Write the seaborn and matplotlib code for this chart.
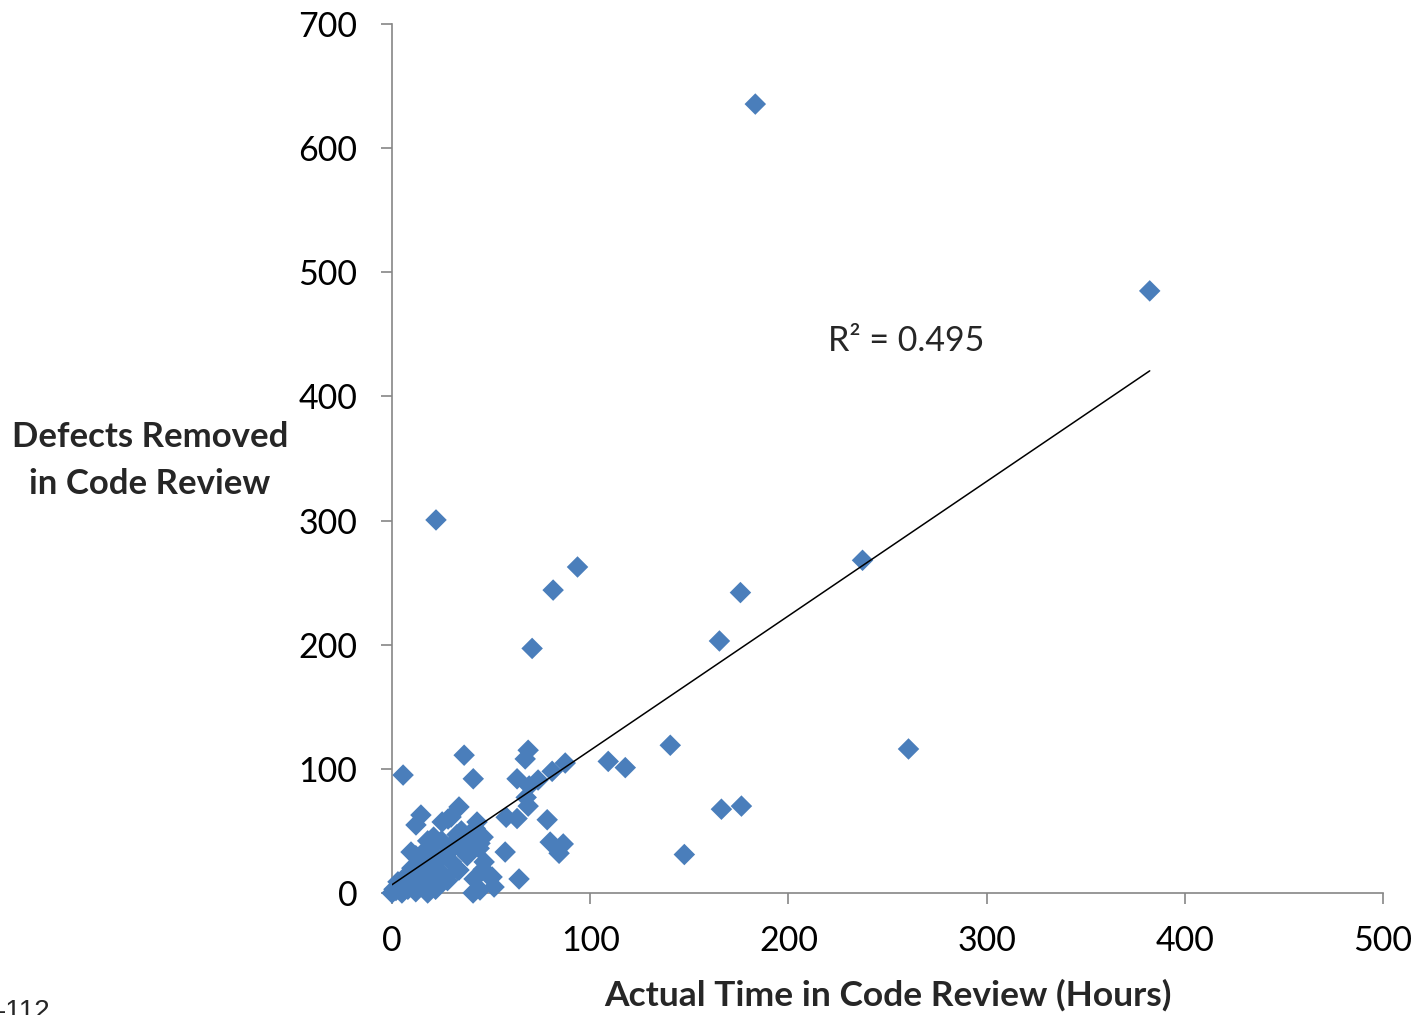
import numpy as np
import pandas as pd
import matplotlib
matplotlib.use("Agg")
import matplotlib.pyplot as plt
import seaborn as sns

# Review hours vs. defects removed, one point per review
review_hours = [
    183.3, 382.3, 22.2, 93.6, 81.3, 175.8, 237.4, 165.2, 70.7, 260.6,
    140.4, 109.1, 117.7, 87.4, 176.3, 166.2, 147.5, 5.6, 36.4, 41.0,
    68.7, 67.2, 63.1, 73.7, 80.8, 69.2, 67.7, 68.7, 57.6, 63.1,
    78.3, 79.8, 86.4, 84.3, 57.1, 64.1, 50.5, 51.5, 46.0, 46.5,
    33.8, 42.9, 28.3, 25.3, 29.8, 14.6, 12.1, 9.6, 46.0, 41.4,
    40.9, 33.3, 26.8, 32.8, 38.4, 44.4, 36.0, 20.0, 16.0, 23.0,
    13.0, 19.0, 25.0, 17.0, 11.0, 8.0, 4.0, 2.0, 0.0, 1.0,
    5.0, 8.0, 14.0, 18.0, 22.0, 28.0, 10.0, 6.0, 30.0, 25.0,
    35.0, 40.0, 30.0, 38.0, 44.0, 12.0, 18.0, 22.0, 15.0, 26.0,
    20.0, 3.0, 12.0, 37.0, 42.0, 44.4, 49.5, 33.8, 21.0, 31.0,
]
defects_removed = [
    635.5, 485.0, 300.5, 262.6, 244.0, 242.0, 268.0, 203.0, 197.0, 116.0,
    119.0, 106.0, 101.0, 104.7, 70.0, 67.5, 31.0, 95.0, 111.0, 92.0,
    115.0, 108.0, 92.0, 91.0, 98.0, 86.2, 77.0, 70.0, 61.0, 60.0,
    59.0, 41.0, 39.5, 32.0, 33.0, 11.3, 12.9, 4.8, 45.0, 25.0,
    69.3, 57.2, 59.6, 57.2, 61.2, 62.8, 54.8, 33.0, 19.0, 11.3,
    0.0, 18.5, 12.9, 47.0, 40.0, 40.0, 34.0, 38.0, 33.0, 28.0,
    28.0, 22.0, 16.0, 14.0, 12.0, 8.0, 5.0, 2.0, 0.0, 3.0,
    0.0, 3.0, 5.0, 0.0, 3.0, 10.0, 20.0, 12.0, 35.0, 42.0,
    50.0, 48.0, 25.0, 30.0, 36.0, 30.0, 42.0, 10.0, 18.0, 30.0,
    6.0, 9.0, 1.0, 43.0, 52.0, 2.4, 12.9, 18.5, 45.0, 40.0,
]
r_squared_label = "R\u00b2 = 0.495"

x_ticks = [0, 100, 200, 300, 400, 500]
y_ticks = [0, 100, 200, 300, 400, 500, 600, 700]

df = pd.DataFrame({"hours": review_hours, "defects": defects_removed})

sns.set_theme(style="white")
plt.rcParams["font.family"] = ["Lato", "DejaVu Sans"]

fig = plt.figure(figsize=(14.17, 10.15), dpi=100)
ax = fig.add_axes([392 / 1417, 1 - 893 / 1015, (1383 - 392) / 1417, (893 - 24) / 1015])

sns.scatterplot(data=df, x="hours", y="defects", marker="D", s=120,
                color="#4A7EBB", edgecolor="none", linewidth=0, ax=ax,
                clip_on=False, zorder=3)
sns.regplot(data=df, x="hours", y="defects", scatter=False, ci=None,
            truncate=True, ax=ax,
            line_kws={"color": "black", "linewidth": 1.1, "zorder": 4})

ax.set_xlim(0, 500)
ax.set_ylim(0, 700)
ax.set_xticks(x_ticks)
ax.set_yticks(y_ticks)
ax.tick_params(axis="both", which="major", direction="out", length=8,
               width=1.2, color="#868686", labelsize=24.5, labelcolor="black",
               bottom=True, left=True)
ax.tick_params(axis="x", pad=15)
ax.tick_params(axis="y", pad=17)

for side in ("top", "right"):
    ax.spines[side].set_visible(False)
for side in ("left", "bottom"):
    ax.spines[side].set_color("#868686")
    ax.spines[side].set_linewidth(1.2)

ax.set_xlabel("Actual Time in Code Review (Hours)", fontsize=25.5,
              fontweight="bold", labelpad=16)
ax.set_ylabel("Defects Removed\nin Code Review", fontsize=25,
              fontweight="bold", rotation=0, ha="center", va="center",
              linespacing=1.55)
ax.yaxis.set_label_coords(-0.2445, 0.5 - (460 - 458) / 869)

ax.text(220, 445, r_squared_label, fontsize=24.5, va="center", ha="left")

fig.text(-0.002, 1 - 999 / 1015, "-112", fontsize=20, va="top", ha="left",
         family=["Liberation Sans", "DejaVu Sans"])

fig.savefig("out.png", dpi=100)
